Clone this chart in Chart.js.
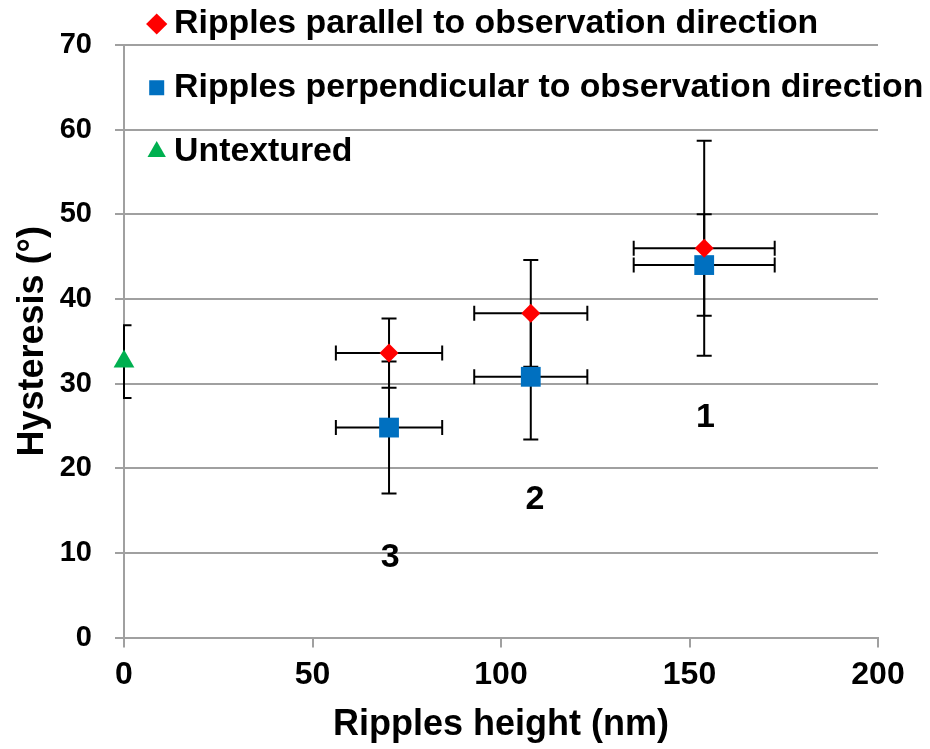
<!DOCTYPE html>
<html>
<head>
<meta charset="utf-8">
<script src="https://cdn.jsdelivr.net/npm/chart.js@4.4.1/dist/chart.umd.min.js"></script>
<style>
  html, body { margin: 0; padding: 0; background: #fff; }
  #wrap { width: 930px; height: 749px; }
</style>
</head>
<body>
<div id="wrap"><canvas id="c" width="930" height="749"></canvas></div>
<script>
// ---- Data ----
const xTicks = [0, 50, 100, 150, 200];
const yTicks = [0, 10, 20, 30, 40, 50, 60, 70];

const seriesNames = [
  'Ripples parallel to observation direction',
  'Ripples perpendicular to observation direction',
  'Untextured'
];

const parallelX    = [70.3, 107.9, 153.9];
const parallelY    = [33.6, 38.3, 46.0];
const parallelXErr = [14.1, 15.0, 18.7];
const parallelYErr = [4.1, 6.3, 12.7];

const perpX    = [70.3, 107.9, 153.9];
const perpY    = [24.8, 30.8, 44.0];
const perpXErr = [14.1, 15.0, 18.7];
const perpYErr = [7.8, 7.4, 6.0];

const untexturedX    = [0];
const untexturedY    = [32.6];
const untexturedYErr = [4.3];

const groupLabels = ['1', '2', '3'];
const groupLabelX = [154.2, 109.0, 70.6];
const groupLabelY = [26.0, 16.3, 9.4];

// ---- Build points ----
function pts(xs, ys, xe, ye) {
  return xs.map((v, i) => ({ x: v, y: ys[i], xErr: xe ? xe[i] : 0, yErr: ye ? ye[i] : 0 }));
}

const FONT = '"Liberation Sans", Arial, Helvetica, sans-serif';

const errorBarPlugin = {
  id: 'errorBars',
  beforeDatasetsDraw(chart) {
    const { ctx, chartArea, scales } = chart;
    const xs = scales.x, ys = scales.y;
    const cap = 7.5;
    ctx.save();
    ctx.beginPath();
    ctx.rect(chartArea.left - 1, chartArea.top - 30, chartArea.right - chartArea.left + 1, chartArea.bottom - chartArea.top + 30);
    ctx.clip();
    ctx.strokeStyle = '#000000';
    ctx.lineWidth = 2;
    const seg = (a, b, c, d) => { ctx.beginPath(); ctx.moveTo(a, b); ctx.lineTo(c, d); ctx.stroke(); };
    chart.data.datasets.forEach((ds) => {
      ds.data.forEach((p) => {
        const px = xs.getPixelForValue(p.x);
        const py = ys.getPixelForValue(p.y);
        if (p.yErr) {
          const t = ys.getPixelForValue(p.y + p.yErr);
          const b = ys.getPixelForValue(p.y - p.yErr);
          seg(px, t, px, b);
          seg(px - cap, t, px + cap, t);
          seg(px - cap, b, px + cap, b);
        }
        if (p.xErr) {
          const l = xs.getPixelForValue(p.x - p.xErr);
          const r = xs.getPixelForValue(p.x + p.xErr);
          seg(l, py, r, py);
          seg(l, py - cap, l, py + cap);
          seg(r, py - cap, r, py + cap);
        }
      });
    });
    ctx.restore();
  }
};

const groupLabelPlugin = {
  id: 'groupLabels',
  afterDatasetsDraw(chart) {
    const { ctx, scales } = chart;
    ctx.save();
    ctx.fillStyle = '#000000';
    ctx.font = 'bold 34px ' + FONT;
    ctx.textAlign = 'center';
    ctx.textBaseline = 'middle';
    groupLabels.forEach((t, i) => {
      ctx.fillText(t, scales.x.getPixelForValue(groupLabelX[i]), scales.y.getPixelForValue(groupLabelY[i]));
    });
    ctx.restore();
  }
};

const legendPlacement = {
  id: 'legendPlacement',
  afterLayout(chart) {
    const lg = chart.legend;
    if (lg) {
      lg.top = -22.9;
      lg.left = 126.2;
      lg.right = 930;
      lg.bottom = 200;
      lg.width = lg.right - lg.left;
      lg.height = lg.bottom - lg.top;
    }
  }
};

const gridColor = '#a0a0a0';

new Chart(document.getElementById('c'), {
  type: 'scatter',
  data: {
    datasets: [
      {
        label: seriesNames[0],
        data: pts(parallelX, parallelY, parallelXErr, parallelYErr),
        pointStyle: 'rectRot',
        pointRadius: 9.5,
        pointHoverRadius: 9.5,
        backgroundColor: '#ff0000',
        borderColor: '#ff0000',
        borderWidth: 0,
        pointBorderWidth: 0,
        clip: false
      },
      {
        label: seriesNames[1],
        data: pts(perpX, perpY, perpXErr, perpYErr),
        pointStyle: 'rect',
        pointRadius: 14,
        pointHoverRadius: 14,
        backgroundColor: '#0070c0',
        borderColor: '#0070c0',
        borderWidth: 0,
        pointBorderWidth: 0,
        clip: false
      },
      {
        label: seriesNames[2],
        data: pts(untexturedX, untexturedY, null, untexturedYErr),
        pointStyle: 'triangle',
        pointRadius: 12,
        pointHoverRadius: 12,
        backgroundColor: '#00b050',
        borderColor: '#00b050',
        borderWidth: 0,
        pointBorderWidth: 0,
        clip: false
      }
    ]
  },
  options: {
    responsive: false,
    animation: false,
    devicePixelRatio: 1,
    events: [],
    layout: { padding: { top: 45, right: 52, left: 0, bottom: 0 } },
    plugins: {
      tooltip: { enabled: false },
      legend: {
        display: true,
        position: 'chartArea',
        align: 'start',
        labels: {
          usePointStyle: true,
          boxWidth: 1,
          boxHeight: 15,
          padding: 30,
          color: '#000000',
          font: { family: FONT, size: 33.8, weight: 'bold' }
        }
      }
    },
    scales: {
      x: {
        type: 'linear',
        position: 'bottom',
        min: 0,
        max: 200,
        afterBuildTicks(scale) { scale.ticks = xTicks.map(v => ({ value: v })); },
        afterFit(scale) { scale.height = 111.5; },
        ticks: {
          color: '#000000',
          padding: 8,
          font: { family: FONT, size: 32, weight: 'bold' }
        },
        grid: {
          drawOnChartArea: false,
          drawTicks: true,
          tickLength: 10,
          color: gridColor,
          lineWidth: 2
        },
        border: { display: true, color: gridColor, width: 2 },
        title: {
          display: true,
          text: 'Ripples height (nm)',
          color: '#000000',
          font: { family: FONT, size: 36, weight: 'bold' },
          padding: { top: 0, bottom: 2.4 }
        }
      },
      y: {
        type: 'linear',
        position: 'left',
        min: 0,
        max: 70,
        afterBuildTicks(scale) { scale.ticks = yTicks.map(v => ({ value: v })); },
        afterFit(scale) { scale.width = 124; },
        ticks: {
          color: '#000000',
          padding: 23,
          font: { family: FONT, size: 29, weight: 'bold' }
        },
        grid: {
          drawOnChartArea: true,
          drawTicks: true,
          tickLength: 9,
          color: gridColor,
          lineWidth: 2
        },
        border: { display: true, color: gridColor, width: 2 },
        title: {
          display: true,
          text: 'Hysteresis (°)',
          color: '#000000',
          font: { family: FONT, size: 36, weight: 'bold' },
          padding: { top: 11, bottom: 0 }
        }
      }
    }
  },
  plugins: [errorBarPlugin, groupLabelPlugin, legendPlacement]
});
</script>
</body>
</html>
